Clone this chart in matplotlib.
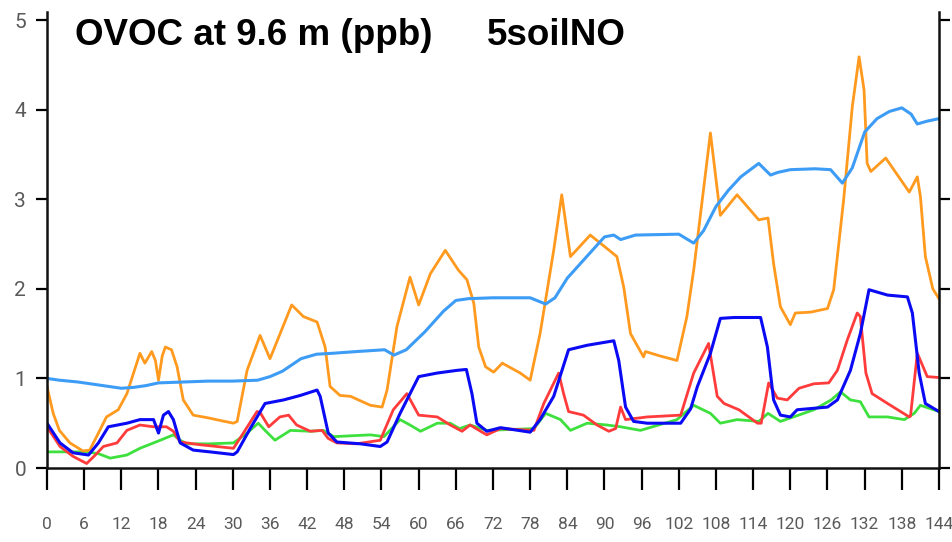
import matplotlib
matplotlib.use('Agg')

import matplotlib.pyplot as plt
from matplotlib import font_manager

# hours since start, values in ppb
t_lblue = [0, 2, 5, 8, 12, 14, 16, 18, 22, 26, 30, 34, 36, 38, 41, 43.5, 46, 50, 54.5, 56, 58,
           61, 64, 66, 68, 72, 78, 80.5, 82, 84, 87, 90, 91.5, 92.6, 95, 102, 104.4, 106, 108,
           110, 112, 114.9, 116.8, 118, 120, 124, 126.5, 128.4, 130, 132, 134, 136, 138, 139.5,
           140.5, 142, 144]
v_lblue = [1.00, 0.98, 0.96, 0.93, 0.89, 0.90, 0.92, 0.95, 0.96, 0.97, 0.97, 0.98, 1.02, 1.08,
           1.22, 1.27, 1.28, 1.30, 1.32, 1.26, 1.32, 1.52, 1.75, 1.87, 1.89, 1.90, 1.90, 1.83,
           1.90, 2.12, 2.35, 2.58, 2.60, 2.55, 2.60, 2.61, 2.51, 2.65, 2.92, 3.10, 3.25, 3.40,
           3.27, 3.30, 3.33, 3.34, 3.33, 3.18, 3.35, 3.75, 3.90, 3.98, 4.02, 3.95, 3.84, 3.87, 3.90]

t_orange = [0, 1, 2, 3.7, 5.8, 6.9, 8.3, 9.6, 11.5, 12.9, 15, 15.8, 16.9, 17.5, 18, 18.6, 19.1,
            20.1, 21, 22, 23.6, 26, 28, 30.1, 30.7, 32.3, 34.4, 36, 39.5, 41.4, 43.6, 44.9, 45.7,
            47.3, 49, 52.2, 54.1, 54.9, 56.5, 58.6, 60, 61.9, 64.3, 66.4, 67.8, 68.9, 69.7, 70.8,
            72.1, 73.5, 76.4, 78, 79.6, 81.8, 83.1, 84.5, 87.7, 90.4, 92, 93.1, 94.2, 96.3, 96.6,
            99, 101.7, 103.3, 104.4, 107.1, 108.7, 111.4, 114.9, 116.4, 117.3, 118.4, 120, 120.8,
            123.3, 126, 127, 128.6, 130, 131.1, 131.9, 132.4, 133, 135.4, 136.7, 139.2, 140.5,
            141, 141.8, 143, 144]
v_orange = [0.91, 0.61, 0.42, 0.28, 0.19, 0.20, 0.39, 0.57, 0.65, 0.83, 1.28, 1.17, 1.30, 1.20,
            0.98, 1.25, 1.35, 1.32, 1.13, 0.76, 0.59, 0.56, 0.53, 0.50, 0.52, 1.09, 1.48, 1.22,
            1.82, 1.69, 1.63, 1.35, 0.91, 0.81, 0.80, 0.70, 0.68, 0.87, 1.58, 2.13, 1.82, 2.17,
            2.43, 2.21, 2.10, 1.84, 1.35, 1.13, 1.07, 1.17, 1.06, 0.98, 1.50, 2.43, 3.05, 2.36,
            2.60, 2.45, 2.36, 2.02, 1.50, 1.24, 1.30, 1.25, 1.20, 1.69, 2.21, 3.74, 2.82, 3.05,
            2.77, 2.79, 2.28, 1.80, 1.60, 1.73, 1.74, 1.78, 1.99, 2.99, 4.03, 4.59, 4.22, 3.40,
            3.31, 3.46, 3.33, 3.08, 3.25, 3.03, 2.36, 2.00, 1.89]

t_blue = [0, 2.1, 4.2, 6.7, 8.3, 9.9, 12.9, 15, 17.2, 18, 18.8, 19.6, 20.4, 21.5, 23.6, 26.3,
          30.1, 30.7, 32.8, 35.2, 38.2, 40.9, 43.6, 44.1, 45.4, 46.8, 50.6, 53.8, 54.9, 57, 60,
          63, 66.2, 67.7, 68.6, 69.4, 71, 73.2, 78, 79.6, 81.8, 84.2, 87.2, 91.5, 92.3, 93.4,
          94.7, 96.9, 102.3, 103.9, 105, 107.1, 108.7, 110.9, 115.2, 116.3, 117.3, 118.4, 120,
          121.1, 126, 127.6, 129.7, 131.3, 132.7, 135.7, 138.9, 139.7, 140.8, 141.8, 144]
v_blue = [0.50, 0.28, 0.17, 0.145, 0.28, 0.46, 0.50, 0.54, 0.54, 0.39, 0.59, 0.63, 0.54, 0.28,
          0.20, 0.18, 0.15, 0.18, 0.44, 0.72, 0.76, 0.81, 0.87, 0.80, 0.39, 0.29, 0.27, 0.24,
          0.29, 0.61, 1.02, 1.06, 1.09, 1.10, 0.83, 0.50, 0.41, 0.45, 0.40, 0.54, 0.80, 1.32,
          1.37, 1.42, 1.20, 0.68, 0.52, 0.50, 0.50, 0.66, 0.91, 1.28, 1.67, 1.68, 1.68, 1.35,
          0.76, 0.59, 0.57, 0.65, 0.68, 0.76, 1.09, 1.50, 1.99, 1.93, 1.91, 1.73, 1.06, 0.72, 0.63]

t_red = [0, 2.1, 4.2, 6.4, 7.8, 9.1, 11.3, 12.9, 15, 17.2, 19.3, 20.4, 21.5, 24.7, 30.1, 31.7,
         33.9, 34.4, 35.8, 37.6, 39, 40.3, 42.5, 44.4, 45.4, 46.8, 50, 53.8, 55.9, 58.1, 60, 63,
         65.1, 67, 68.3, 70, 71, 73.2, 78.6, 80.2, 82.6, 83.4, 84.2, 86.6, 88.8, 90.7, 91.8,
         92.6, 93.4, 96.9, 102.3, 104.4, 106.8, 108.2, 109.3, 111.7, 114.7, 115.3, 116.5, 117.9,
         119.5, 121.4, 123.8, 126.2, 127.6, 129.2, 130.8, 131.3, 132.2, 133.2, 135.7, 139.2,
         139.4, 140.5, 141, 142.1, 144]
v_red = [0.46, 0.24, 0.13, 0.05, 0.145, 0.24, 0.28, 0.42, 0.48, 0.46, 0.46, 0.41, 0.29, 0.26,
         0.22, 0.39, 0.63, 0.62, 0.46, 0.57, 0.59, 0.48, 0.41, 0.42, 0.33, 0.28, 0.27, 0.31, 0.65,
         0.83, 0.59, 0.57, 0.48, 0.41, 0.48, 0.41, 0.37, 0.44, 0.42, 0.72, 1.06, 0.83, 0.63, 0.59,
         0.48, 0.41, 0.44, 0.68, 0.54, 0.57, 0.59, 1.06, 1.39, 0.80, 0.72, 0.65, 0.50, 0.50, 0.95,
         0.78, 0.76, 0.89, 0.94, 0.95, 1.09, 1.43, 1.73, 1.69, 1.06, 0.83, 0.72, 0.57, 0.58, 1.28,
         1.20, 1.02, 1.01]

t_green = [0, 6.4, 8.3, 10.2, 12.9, 15, 18.3, 20.4, 21.5, 22.6, 26.3, 30.1, 32.3, 34.1, 35.2,
           36.8, 39.3, 42.5, 44.6, 46.3, 52.2, 54.4, 57, 58.6, 60.3, 63, 65.1, 66.6, 68.3, 71,
           78.6, 80.5, 82.9, 84.5, 87.2, 90.4, 92.6, 95.8, 101.7, 104.4, 107.1, 108.7, 111.4,
           114.9, 116.4, 118.4, 120.5, 123.8, 126.6, 128.1, 129.7, 131.3, 132.7, 135.7, 138.4,
           140, 141, 144]
v_green = [0.18, 0.18, 0.16, 0.11, 0.145, 0.22, 0.31, 0.37, 0.31, 0.27, 0.27, 0.28, 0.39, 0.50,
           0.42, 0.31, 0.42, 0.41, 0.42, 0.35, 0.37, 0.35, 0.54, 0.48, 0.41, 0.50, 0.50, 0.44,
           0.48, 0.42, 0.44, 0.61, 0.54, 0.42, 0.50, 0.48, 0.46, 0.42, 0.54, 0.70, 0.61, 0.50,
           0.54, 0.52, 0.61, 0.52, 0.57, 0.65, 0.76, 0.85, 0.76, 0.74, 0.57, 0.57, 0.54, 0.61,
           0.70, 0.63]

x_ticks = list(range(0, 145, 6))
y_ticks = [0, 1, 2, 3, 4, 5]

# narrowest available font for the tick labels
names = {f.name for f in font_manager.fontManager.ttflist}
tick_family = [n for n in ['Liberation Sans Narrow', 'Roboto', 'DejaVu Sans'] if n in names]

fig = plt.figure(figsize=(9.53, 5.42), dpi=100)
ax = fig.add_axes([47 / 953, 1 - 468 / 542, (939 - 47) / 953, (468 - 12) / 542])

ax.plot(t_green, v_green, color='#3ee03e', lw=2)
ax.plot(t_red, v_red, color='#ff3b3b', lw=2)
ax.plot(t_orange, v_orange, color='#ff9a1f', lw=2)
ax.plot(t_lblue, v_lblue, color='#3d9cf5', lw=2.2)
ax.plot(t_blue, v_blue, color='#0a0af5', lw=2.2)

ax.set_xlim(0, 144)
ax.set_ylim(0, 5.09)
ax.set_xticks(x_ticks)
ax.set_yticks(y_ticks)

ax.spines['top'].set_visible(False)
for s in ['left', 'right', 'bottom']:
    ax.spines[s].set_linewidth(1.8)
    ax.spines[s].set_color('#111111')

ax.tick_params(axis='x', direction='out', length=16, width=1.6, pad=19,
               labelsize=12.5, labelcolor='#5a5a5a')
ax.tick_params(axis='y', direction='out', length=8, width=1.6, pad=7,
               labelsize=15, labelcolor='#5a5a5a', right=True)
for lab in ax.get_xticklabels() + ax.get_yticklabels():
    lab.set_family(tick_family)

fig.text(75 / 953, 1 - 45 / 542, 'OVOC at 9.6 m (ppb)', fontsize=26.5, fontweight='bold',
         family=['Liberation Sans', 'DejaVu Sans'], va='baseline', ha='left')
fig.text(487 / 953, 1 - 45 / 542, '5soilNO', fontsize=26.5, fontweight='bold',
         family=['Liberation Sans', 'DejaVu Sans'], va='baseline', ha='left')

fig.savefig('out.png', dpi=100)
plt.close(fig)
